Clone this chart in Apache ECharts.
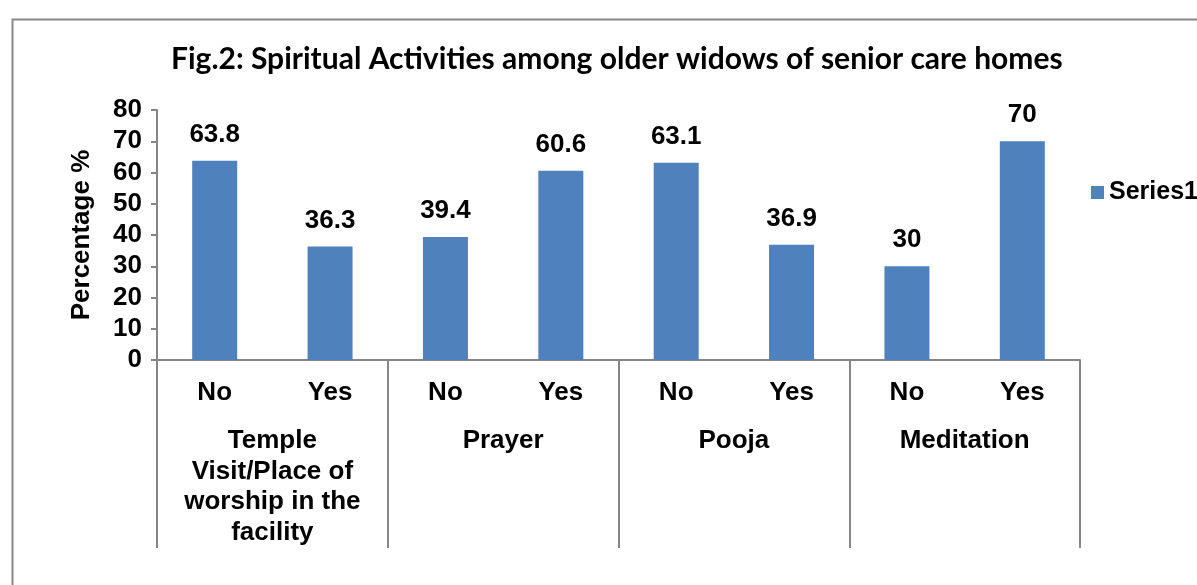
<!DOCTYPE html>
<html>
<head>
<meta charset="utf-8">
<script src="https://cdn.jsdelivr.net/npm/echarts@6/dist/echarts.min.js"></script>
<style>html,body{margin:0;padding:0;background:#fff}#c{width:1197px;height:585px}</style>
</head>
<body>
<div id="c"></div>
<script>
var subCategories = ['No', 'Yes', 'No', 'Yes', 'No', 'Yes', 'No', 'Yes'];
var groupCategories = ['Temple\nVisit/Place of\nworship in the\nfacility', 'Prayer', 'Pooja', 'Meditation'];
var series1 = [63.8, 36.3, 39.4, 60.6, 63.1, 36.9, 30, 70];
var yTicks = [0, 10, 20, 30, 40, 50, 60, 70, 80];

var chart = echarts.init(document.getElementById('c'), null, {renderer: 'canvas'});
var font = '"Liberation Sans", Arial, sans-serif';
var axisColor = '#868686';
chart.setOption({
  animation: false,
  backgroundColor: '#fff',
  title: {
    text: 'Fig.2: Spiritual Activities among older widows of senior care homes',
    left: 166, top: 39,
    textStyle: {fontFamily: 'Lato, "Open Sans", sans-serif', fontWeight: 'bold', fontSize: 30, color: '#000'}
  },
  graphic: [{
    type: 'rect', left: 10, top: 17,
    shape: {width: 1300, height: 700},
    style: {fill: 'none', stroke: '#888', lineWidth: 2},
    silent: true
  }],
  legend: {
    left: 1086, top: 175,
    icon: 'rect', itemWidth: 13, itemHeight: 13, itemGap: 6,
    textStyle: {fontFamily: font, fontWeight: 'bold', fontSize: 25, color: '#000'}
  },
  grid: {left: 157, top: 110, right: 117, bottom: 225, containLabel: false},
  xAxis: [{
    type: 'category', data: subCategories, position: 'bottom',
    axisLine: {show: true, lineStyle: {color: axisColor, width: 2}},
    axisTick: {show: false},
    axisLabel: {interval: 0, margin: 20, fontFamily: font, fontWeight: 'bold', fontSize: 26, color: '#000'}
  }, {
    type: 'category', data: groupCategories, position: 'bottom',
    axisLine: {show: false},
    axisTick: {show: true, interval: 0, length: 188, lineStyle: {color: axisColor, width: 2}},
    axisLabel: {interval: 0, margin: 66, lineHeight: 30.5, fontFamily: font, fontWeight: 'bold', fontSize: 26, color: '#000'}
  }],
  yAxis: {
    type: 'value', min: yTicks[0], max: yTicks[yTicks.length - 1], interval: 10,
    name: 'Percentage %', nameLocation: 'middle', nameGap: 62,
    nameTextStyle: {fontFamily: font, fontWeight: 'bold', fontSize: 26, color: '#000'},
    axisLine: {show: true, lineStyle: {color: axisColor, width: 2}},
    axisTick: {show: true, length: 6, lineStyle: {color: axisColor, width: 2}},
    splitLine: {show: false},
    axisLabel: {margin: 15, fontFamily: font, fontWeight: 'bold', fontSize: 26, color: '#000'}
  },
  series: [{
    name: 'Series1', type: 'bar', data: series1, xAxisIndex: 0,
    barWidth: 45,
    itemStyle: {color: '#4F81BD'},
    label: {show: true, position: 'top', distance: 13, fontFamily: font, fontWeight: 'bold', fontSize: 26, color: '#000'}
  }]
});
</script>
</body>
</html>
